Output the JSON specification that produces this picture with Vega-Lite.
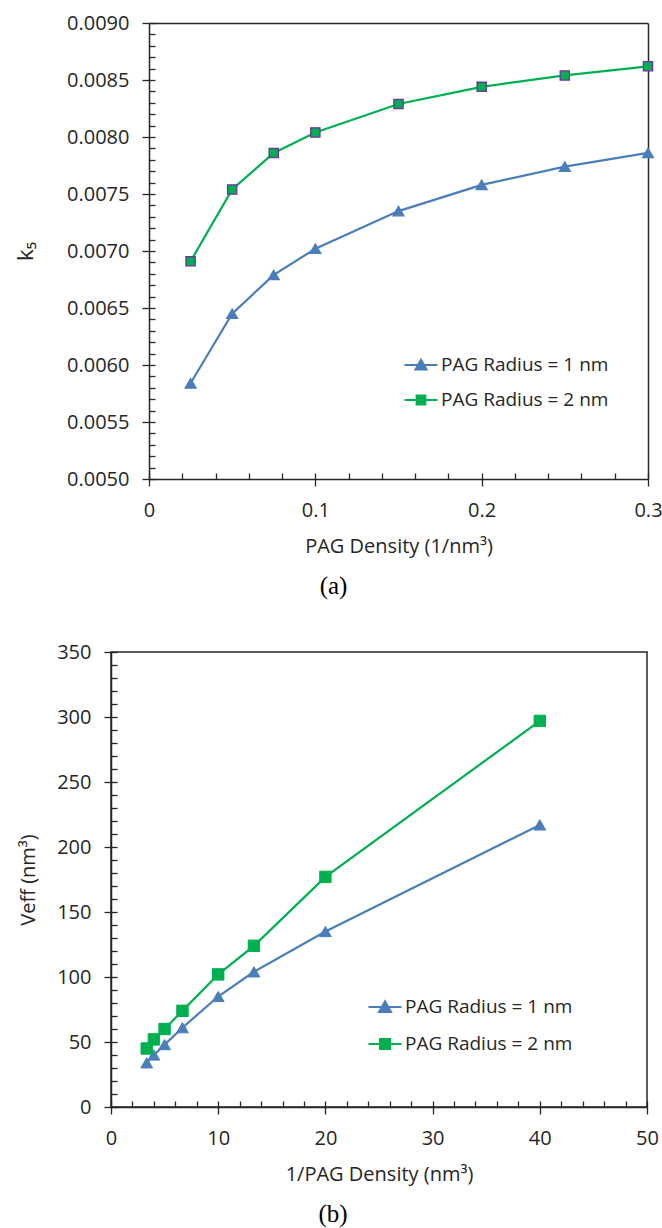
{
  "$schema": "https://vega.github.io/schema/vega-lite/v6.json",
  "background": "white",
  "padding": {"left": 14, "top": 13, "right": 0, "bottom": 0},
  "autosize": {"type": "pad"},
  "datasets": {
    "a": [
      {"x": 0.025, "y": 0.00584, "series": "PAG Radius = 1 nm"},
      {"x": 0.05, "y": 0.00645, "series": "PAG Radius = 1 nm"},
      {"x": 0.075, "y": 0.00679, "series": "PAG Radius = 1 nm"},
      {"x": 0.1, "y": 0.00702, "series": "PAG Radius = 1 nm"},
      {"x": 0.15, "y": 0.00735, "series": "PAG Radius = 1 nm"},
      {"x": 0.2, "y": 0.00758, "series": "PAG Radius = 1 nm"},
      {"x": 0.25, "y": 0.00774, "series": "PAG Radius = 1 nm"},
      {"x": 0.3, "y": 0.00786, "series": "PAG Radius = 1 nm"},
      {"x": 0.025, "y": 0.00691, "series": "PAG Radius = 2 nm"},
      {"x": 0.05, "y": 0.00754, "series": "PAG Radius = 2 nm"},
      {"x": 0.075, "y": 0.00786, "series": "PAG Radius = 2 nm"},
      {"x": 0.1, "y": 0.00804, "series": "PAG Radius = 2 nm"},
      {"x": 0.15, "y": 0.00829, "series": "PAG Radius = 2 nm"},
      {"x": 0.2, "y": 0.00844, "series": "PAG Radius = 2 nm"},
      {"x": 0.25, "y": 0.00854, "series": "PAG Radius = 2 nm"},
      {"x": 0.3, "y": 0.00862, "series": "PAG Radius = 2 nm"}
    ],
    "b": [
      {"x": 3.333, "y": 34, "series": "PAG Radius = 1 nm"},
      {"x": 4, "y": 40, "series": "PAG Radius = 1 nm"},
      {"x": 5, "y": 48, "series": "PAG Radius = 1 nm"},
      {"x": 6.667, "y": 61, "series": "PAG Radius = 1 nm"},
      {"x": 10, "y": 85, "series": "PAG Radius = 1 nm"},
      {"x": 13.333, "y": 104, "series": "PAG Radius = 1 nm"},
      {"x": 20, "y": 135, "series": "PAG Radius = 1 nm"},
      {"x": 40, "y": 217, "series": "PAG Radius = 1 nm"},
      {"x": 3.333, "y": 45, "series": "PAG Radius = 2 nm"},
      {"x": 4, "y": 52, "series": "PAG Radius = 2 nm"},
      {"x": 5, "y": 60, "series": "PAG Radius = 2 nm"},
      {"x": 6.667, "y": 74, "series": "PAG Radius = 2 nm"},
      {"x": 10, "y": 102, "series": "PAG Radius = 2 nm"},
      {"x": 13.333, "y": 124, "series": "PAG Radius = 2 nm"},
      {"x": 20, "y": 177, "series": "PAG Radius = 2 nm"},
      {"x": 40, "y": 297, "series": "PAG Radius = 2 nm"}
    ]
  },
  "vconcat": [
    {
      "width": 537,
      "height": 456,
      "data": {"name": "a"},
      "view": {"stroke": null},
      "title": {"text": "(a)", "orient": "bottom", "font": "Liberation Serif", "fontSize": 25, "fontWeight": "normal", "color": "#000000", "offset": 18, "dx": -46},
      "resolve": {"axis": {"x": "independent", "y": "independent"}, "scale": {"color": "independent", "shape": "independent", "stroke": "independent", "size": "independent"}},
      "layer": [
        {
          "mark": {"type": "line", "strokeWidth": 2.2},
          "encoding": {
            "x": {"field": "x", "type": "quantitative", "scale": {"domain": [0, 0.3], "range": [38, 537], "nice": false, "zero": false},
              "axis": {"orient": "bottom", "values": [0, 0.1, 0.2, 0.3], "format": "~g", "tickSize": 7, "labelPadding": 14, "labelFlush": false, "labelOverlap": false, "title": "PAG Density (1/nm³)", "titlePadding": 16}},
            "y": {"field": "y", "type": "quantitative", "scale": {"domain": [0.005, 0.009], "nice": false, "zero": false},
              "axis": {"orient": "left", "offset": -38, "values": [0.005, 0.0055, 0.006, 0.0065, 0.007, 0.0075, 0.008, 0.0085, 0.009], "format": ".4f", "tickSize": 7, "labelPadding": 13, "labelOverlap": false, "title": "k₅", "titleFontSize": 22, "titlePadding": 29}},
            "color": {"field": "series", "type": "nominal", "scale": {"domain": ["PAG Radius = 1 nm", "PAG Radius = 2 nm"], "range": ["#4A7EBB", "#00B050"]}, "legend": null}
          }
        },
        {
          "mark": {"type": "point", "filled": true, "opacity": 1, "strokeWidth": 1.3},
          "encoding": {
            "x": {"field": "x", "type": "quantitative",
              "axis": {"orient": "bottom", "values": [0, 0.02, 0.04, 0.06, 0.08, 0.1, 0.12, 0.14, 0.16, 0.18, 0.2, 0.22, 0.24, 0.26, 0.28, 0.3], "offset": -6, "tickSize": 6, "domain": false, "labels": false, "title": null}},
            "y": {"field": "y", "type": "quantitative",
              "axis": {"orient": "left", "values": [0.005, 0.0051, 0.0052, 0.0053, 0.0054, 0.0055, 0.0056, 0.0057, 0.0058, 0.0059, 0.006, 0.0061, 0.0062, 0.0063, 0.0064, 0.0065, 0.0066, 0.0067, 0.0068, 0.0069, 0.007, 0.0071, 0.0072, 0.0073, 0.0074, 0.0075, 0.0076, 0.0077, 0.0078, 0.0079, 0.008, 0.0081, 0.0082, 0.0083, 0.0084, 0.0085, 0.0086, 0.0087, 0.0088, 0.0089, 0.009], "offset": -44, "tickSize": 6, "domain": false, "labels": false, "title": null}},
            "color": {"field": "series", "type": "nominal", "scale": {"domain": ["PAG Radius = 1 nm", "PAG Radius = 2 nm"], "range": ["#4A7EBB", "#00B050"]}, "legend": null},
            "stroke": {"field": "series", "type": "nominal", "scale": {"domain": ["PAG Radius = 1 nm", "PAG Radius = 2 nm"], "range": ["#4A7EBB", "#7030A0"]}, "legend": null},
            "shape": {"field": "series", "type": "nominal", "scale": {"domain": ["PAG Radius = 1 nm", "PAG Radius = 2 nm"], "range": ["triangle-up", "square"]}, "legend": null},
            "size": {"field": "series", "type": "nominal", "scale": {"domain": ["PAG Radius = 1 nm", "PAG Radius = 2 nm"], "range": [120, 85]}, "legend": null}
          }
        },
        {
          "transform": [{"filter": "false"}],
          "mark": {"type": "point", "filled": true, "opacity": 1, "strokeWidth": 2.2},
          "encoding": {
            "x": {"field": "x", "type": "quantitative", "axis": {"orient": "top", "domain": true, "ticks": false, "labels": false, "title": null}},
            "y": {"field": "y", "type": "quantitative", "axis": {"orient": "right", "domain": true, "ticks": false, "labels": false, "title": null}},
            "color": {"field": "series", "type": "nominal", "scale": {"domain": ["PAG Radius = 1 nm", "PAG Radius = 2 nm"], "range": ["#4A7EBB", "#00B050"]},
              "legend": {"title": null, "orient": "none", "legendX": 292, "legendY": 324, "symbolSize": 1089, "symbolStrokeWidth": 2.2, "labelFont": "Open Sans", "labelFontSize": 19, "labelColor": "#262626", "labelOffset": 2, "labelLimit": 400, "rowPadding": 7, "padding": 0}},
            "stroke": {"field": "series", "type": "nominal", "scale": {"domain": ["PAG Radius = 1 nm", "PAG Radius = 2 nm"], "range": ["#4A7EBB", "#00B050"]},
              "legend": {"title": null, "orient": "none", "legendX": 292, "legendY": 324, "symbolSize": 1089, "symbolStrokeWidth": 2.2, "labelFont": "Open Sans", "labelFontSize": 19, "labelColor": "#262626", "labelOffset": 2, "labelLimit": 400, "rowPadding": 7, "padding": 0}},
            "shape": {"field": "series", "type": "nominal", "scale": {"domain": ["PAG Radius = 1 nm", "PAG Radius = 2 nm"], "range": ["M-1,0H1M-0.33,0.27L0,-0.3L0.33,0.27Z", "M-1,0H1M-0.26,-0.26H0.26V0.26H-0.26Z"]},
              "legend": {"title": null, "orient": "none", "legendX": 292, "legendY": 324, "symbolSize": 1089, "symbolStrokeWidth": 2.2, "labelFont": "Open Sans", "labelFontSize": 19, "labelColor": "#262626", "labelOffset": 2, "labelLimit": 400, "rowPadding": 7, "padding": 0}}
          }
        }
      ]
    },
    {
      "width": 536,
      "height": 455,
      "data": {"name": "b"},
      "title": {"text": "(b)", "orient": "bottom", "font": "Liberation Serif", "fontSize": 25, "fontWeight": "normal", "color": "#000000", "offset": 18, "dx": -46},
      "resolve": {"axis": {"x": "independent", "y": "independent"}, "scale": {"color": "independent", "shape": "independent", "stroke": "independent", "size": "independent"}},
      "layer": [
        {
          "mark": {"type": "line", "strokeWidth": 2.2},
          "encoding": {
            "x": {"field": "x", "type": "quantitative", "scale": {"domain": [0, 50], "nice": false, "zero": false},
              "axis": {"orient": "bottom", "values": [0, 10, 20, 30, 40, 50], "format": "d", "tickSize": 7, "labelPadding": 14, "labelFlush": false, "labelOverlap": false, "title": "1/PAG Density (nm³)", "titlePadding": 16}},
            "y": {"field": "y", "type": "quantitative", "scale": {"domain": [0, 350], "nice": false, "zero": false},
              "axis": {"orient": "left", "values": [0, 50, 100, 150, 200, 250, 300, 350], "format": "d", "tickSize": 7, "labelPadding": 13, "labelOverlap": false, "title": "Veff (nm³)", "titlePadding": 18}},
            "color": {"field": "series", "type": "nominal", "scale": {"domain": ["PAG Radius = 1 nm", "PAG Radius = 2 nm"], "range": ["#4A7EBB", "#00B050"]}, "legend": null}
          }
        },
        {
          "mark": {"type": "point", "filled": true, "opacity": 1, "strokeWidth": 1},
          "encoding": {
            "x": {"field": "x", "type": "quantitative",
              "axis": {"orient": "bottom", "values": [0, 2, 4, 6, 8, 10, 12, 14, 16, 18, 20, 22, 24, 26, 28, 30, 32, 34, 36, 38, 40, 42, 44, 46, 48, 50], "offset": -6, "tickSize": 6, "domain": false, "labels": false, "title": null}},
            "y": {"field": "y", "type": "quantitative",
              "axis": {"orient": "left", "values": [0, 10, 20, 30, 40, 50, 60, 70, 80, 90, 100, 110, 120, 130, 140, 150, 160, 170, 180, 190, 200, 210, 220, 230, 240, 250, 260, 270, 280, 290, 300, 310, 320, 330, 340, 350], "offset": -6, "tickSize": 6, "domain": false, "labels": false, "title": null}},
            "color": {"field": "series", "type": "nominal", "scale": {"domain": ["PAG Radius = 1 nm", "PAG Radius = 2 nm"], "range": ["#4A7EBB", "#00B050"]}, "legend": null},
            "stroke": {"field": "series", "type": "nominal", "scale": {"domain": ["PAG Radius = 1 nm", "PAG Radius = 2 nm"], "range": ["#4A7EBB", "#00B050"]}, "legend": null},
            "shape": {"field": "series", "type": "nominal", "scale": {"domain": ["PAG Radius = 1 nm", "PAG Radius = 2 nm"], "range": ["triangle-up", "square"]}, "legend": null},
            "size": {"field": "series", "type": "nominal", "scale": {"domain": ["PAG Radius = 1 nm", "PAG Radius = 2 nm"], "range": [140, 130]}, "legend": null}
          }
        },
        {
          "transform": [{"filter": "false"}],
          "mark": {"type": "point", "filled": true, "opacity": 1, "strokeWidth": 2.2},
          "encoding": {
            "x": {"field": "x", "type": "quantitative", "axis": null},
            "y": {"field": "y", "type": "quantitative", "axis": null},
            "color": {"field": "series", "type": "nominal", "scale": {"domain": ["PAG Radius = 1 nm", "PAG Radius = 2 nm"], "range": ["#4A7EBB", "#00B050"]},
              "legend": {"title": null, "orient": "none", "legendX": 256, "legendY": 337, "symbolSize": 1089, "symbolStrokeWidth": 2.2, "labelFont": "Open Sans", "labelFontSize": 19, "labelColor": "#262626", "labelOffset": 2, "labelLimit": 400, "rowPadding": 9, "padding": 0}},
            "stroke": {"field": "series", "type": "nominal", "scale": {"domain": ["PAG Radius = 1 nm", "PAG Radius = 2 nm"], "range": ["#4A7EBB", "#00B050"]},
              "legend": {"title": null, "orient": "none", "legendX": 256, "legendY": 337, "symbolSize": 1089, "symbolStrokeWidth": 2.2, "labelFont": "Open Sans", "labelFontSize": 19, "labelColor": "#262626", "labelOffset": 2, "labelLimit": 400, "rowPadding": 9, "padding": 0}},
            "shape": {"field": "series", "type": "nominal", "scale": {"domain": ["PAG Radius = 1 nm", "PAG Radius = 2 nm"], "range": ["M-1,0H1M-0.36,0.3L0,-0.33L0.36,0.3Z", "M-1,0H1M-0.3,-0.3H0.3V0.3H-0.3Z"]},
              "legend": {"title": null, "orient": "none", "legendX": 256, "legendY": 337, "symbolSize": 1089, "symbolStrokeWidth": 2.2, "labelFont": "Open Sans", "labelFontSize": 19, "labelColor": "#262626", "labelOffset": 2, "labelLimit": 400, "rowPadding": 9, "padding": 0}}
          }
        }
      ]
    }
  ],
  "spacing": 42,
  "config": {
    "font": "Open Sans",
    "view": {"stroke": "#262626", "strokeWidth": 1.5},
    "axis": {"grid": false, "domainColor": "#262626", "domainWidth": 1.5, "tickColor": "#262626", "tickWidth": 1.3, "labelFont": "Open Sans", "labelFontSize": 20, "labelColor": "#262626", "titleFont": "Open Sans", "titleFontSize": 20, "titleFontWeight": "normal", "titleColor": "#262626"}
  }
}
